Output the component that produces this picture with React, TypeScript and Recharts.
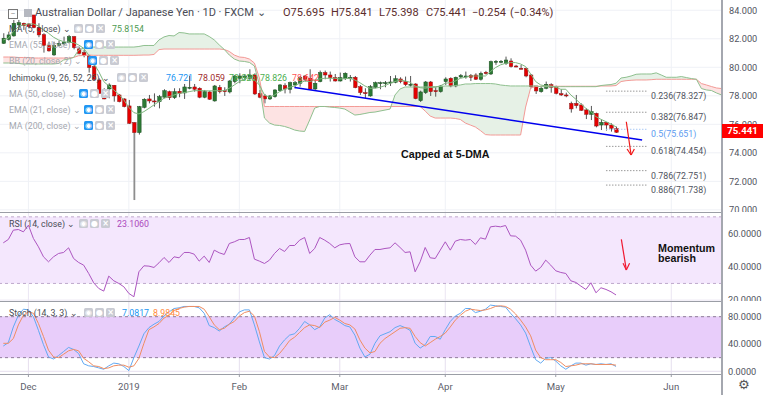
import React from "react";
import { ComposedChart, Area, Line, Bar, XAxis, YAxis, CartesianGrid, ReferenceLine, ReferenceArea } from "recharts";

const opens = [
81.68,81.96,82.20,82.97,83.09,83.04,83.67,82.81,82.29,81.52,
80.87,81.54,81.64,81.73,82.15,81.29,81.03,80.80,80.05,79.11,
78.29,78.48,78.74,78.06,77.78,77.29,76.12,75.42,77.19,77.78,
77.64,77.59,77.90,78.29,77.87,78.32,78.20,78.53,78.62,78.53,
77.90,78.27,77.64,78.60,78.36,78.27,79.00,79.23,79.27,79.23,
79.46,78.17,77.99,77.78,77.94,78.36,78.71,78.46,78.76,78.88,
79.39,79.23,78.48,79.00,79.63,79.46,79.27,79.04,79.23,79.25,
79.30,78.64,78.22,77.99,78.60,78.88,78.88,78.92,78.95,79.18,
79.00,78.76,78.83,77.66,78.22,78.97,78.36,78.29,79.00,79.23,
78.69,79.32,79.35,79.44,79.46,79.16,79.65,79.53,80.37,80.37,
80.28,80.44,80.09,79.93,79.93,79.46,78.69,78.29,78.53,78.78,
78.64,78.15,78.06,77.47,77.47,77.36,77.01,76.70,76.77,75.95,
76.14,75.95,75.695];
const highs = [
82.39,82.50,83.32,83.32,83.13,83.09,83.67,83.09,82.39,81.80,
81.80,81.87,82.15,82.27,82.20,81.45,81.22,80.87,80.17,79.23,
78.53,78.88,78.76,78.13,77.83,77.71,76.16,77.29,77.83,78.06,
78.17,78.06,78.46,78.36,78.53,78.53,78.83,79.39,78.83,78.60,
78.41,78.36,78.76,78.76,78.60,79.11,79.46,79.58,79.53,79.86,
79.58,78.41,78.13,78.06,78.46,78.83,78.88,79.00,79.04,79.39,
79.46,79.86,79.11,79.77,79.77,79.70,79.53,79.63,79.65,79.46,
79.39,78.76,78.53,78.76,79.00,79.00,79.04,79.39,79.44,79.30,
79.35,79.39,78.88,78.36,79.04,79.04,78.60,78.76,79.30,79.30,
79.35,79.53,79.70,79.53,79.58,79.70,79.75,80.47,80.51,80.51,
80.75,80.63,80.17,80.17,79.98,79.53,78.69,78.69,79.00,78.88,
78.71,78.46,78.22,77.59,78.06,77.47,77.12,77.29,76.82,76.35,
76.14,76.07,75.841];
const lows = [
81.64,81.87,82.15,82.62,82.62,82.74,82.74,82.11,81.03,81.10,
80.80,81.45,81.57,81.68,81.26,80.91,80.70,79.63,79.11,78.17,
77.76,77.83,77.59,77.54,77.19,76.02,70.69,75.28,77.12,77.47,
77.24,77.12,77.83,77.71,77.78,77.90,77.78,78.46,78.29,77.83,
77.83,77.71,77.59,78.17,77.99,78.17,78.88,78.88,79.11,79.11,
78.06,77.83,77.47,77.71,77.87,78.29,78.17,78.17,78.53,78.64,
79.00,78.41,78.41,78.95,79.16,79.00,79.00,79.00,79.11,79.00,
78.53,78.06,77.83,77.94,78.53,78.46,78.60,78.69,78.88,78.88,
78.69,78.64,77.76,77.57,78.13,77.99,77.94,78.22,78.76,78.60,
78.60,79.23,79.20,79.04,79.11,79.07,79.49,79.46,80.17,80.28,
80.17,79.98,80.00,79.86,79.30,78.53,78.13,78.22,78.46,78.22,
78.10,77.99,77.90,76.82,77.12,76.94,76.37,76.30,75.79,75.60,
75.56,75.49,75.398];
const closes = [
82.04,82.27,83.09,83.13,82.92,82.85,82.78,82.27,81.54,81.15,
81.52,81.68,81.75,82.15,81.38,80.98,80.82,79.98,79.16,78.17,
77.78,78.76,77.99,77.59,77.24,76.07,75.42,77.24,77.76,77.64,
77.59,77.94,78.36,77.87,78.29,78.17,78.62,78.60,78.46,77.90,
78.29,77.76,78.69,78.29,78.29,79.04,79.39,79.39,79.39,79.46,
78.13,77.90,77.78,77.99,78.41,78.76,78.48,78.92,78.92,79.30,
79.16,78.46,78.88,79.63,79.46,79.27,79.04,79.27,79.58,79.30,
78.57,78.22,78.20,78.64,78.92,78.92,78.92,78.97,79.20,79.00,
78.78,78.81,77.80,78.27,78.97,78.29,78.32,78.69,79.18,78.69,
79.30,79.42,79.39,79.30,79.16,79.58,79.56,80.40,80.42,80.42,
80.51,80.05,80.05,79.88,79.39,78.64,78.34,78.53,78.81,78.60,
78.17,78.06,77.99,77.08,77.31,76.98,76.70,76.89,75.88,76.14,
75.95,75.72,75.441];
const ma5 = [
81.92,82.04,82.50,82.85,82.97,83.04,83.04,82.90,82.62,82.39,
82.11,81.92,81.80,81.75,81.73,81.57,81.33,80.87,80.28,79.70,
79.00,78.69,78.41,78.10,77.71,77.19,76.82,76.73,76.89,77.12,
77.36,77.59,77.83,77.94,78.06,78.17,78.22,78.29,78.36,78.36,
78.36,78.34,78.36,78.36,78.36,78.53,78.76,79.00,79.16,79.30,
79.11,78.76,78.06,77.90,78.06,78.29,78.46,78.60,78.69,78.88,
79.04,79.00,79.11,79.18,79.23,79.23,79.23,79.18,79.20,79.23,
79.11,78.92,78.69,78.53,78.53,78.60,78.71,78.88,79.00,79.11,
79.04,78.95,78.69,78.57,78.53,78.60,78.60,78.69,78.88,78.92,
79.04,79.23,79.30,79.39,79.39,79.39,79.39,79.70,79.98,80.17,
80.28,80.33,80.33,80.23,80.05,79.53,79.00,78.76,78.69,78.69,
78.60,78.46,78.46,78.06,77.76,77.43,77.12,76.89,76.54,76.35,
76.19,76.02,75.82];
const spanA = [
80.30,80.30,80.30,80.27,80.23,80.23,80.23,80.23,80.23,80.23,
80.23,80.27,80.51,80.58,80.69,81.21,81.35,81.39,81.42,81.42,
81.42,81.42,81.42,81.42,81.42,81.42,81.42,81.46,81.53,81.53,
81.53,81.92,82.13,82.23,82.20,82.44,82.41,82.34,82.34,82.34,
82.34,82.16,81.92,81.57,81.25,80.86,80.58,80.44,80.41,80.34,
80.09,78.76,76.44,76.09,75.95,75.92,75.85,75.74,75.60,75.53,
75.50,76.30,77.14,77.25,77.25,77.21,77.18,77.14,77.07,76.86,
76.65,76.69,76.76,76.83,76.86,76.93,77.00,77.07,78.06,78.48,
78.62,78.62,78.62,78.62,78.62,78.62,78.65,78.65,78.69,78.69,
78.72,78.76,78.83,78.83,78.86,78.86,78.86,78.86,78.83,78.76,
78.72,78.69,78.69,78.69,78.69,78.69,78.69,78.64,78.64,78.64,
78.64,78.64,78.64,78.64,78.64,78.64,78.64,78.64,78.64,78.72,
78.76,78.79,78.88,79.25,79.30,79.39,79.51,79.53,79.53,79.53,
79.61,79.46,79.30,79.30,79.30,79.35,79.28,79.21,79.16,78.51,
78.41,78.37,78.20,78.06];
const spanB = [
80.72,80.72,80.72,80.69,80.69,80.69,80.65,80.65,80.65,80.65,
80.65,80.65,80.65,80.65,80.69,80.81,80.83,80.86,80.84,80.84,
80.84,80.84,80.84,80.84,80.84,80.84,80.84,80.85,80.86,80.86,
80.90,81.24,81.28,81.28,81.28,81.28,81.28,81.28,81.28,81.28,
81.28,81.28,81.28,81.28,81.25,81.11,80.86,80.72,80.69,80.58,
80.30,79.25,77.25,77.25,77.25,77.25,77.25,77.25,77.25,77.25,
77.25,77.25,77.25,77.25,77.25,77.25,77.25,77.25,77.25,77.25,
77.25,77.25,77.25,77.25,77.25,77.25,77.25,77.25,77.25,77.25,
77.25,77.25,77.25,77.25,76.93,76.58,76.44,76.44,76.44,76.44,
76.41,76.34,76.09,75.95,75.81,75.56,75.28,75.25,75.25,75.25,
75.25,75.25,75.25,75.25,77.21,78.55,78.65,78.67,78.67,78.67,
78.67,78.67,78.67,78.67,78.67,78.67,78.67,78.67,78.67,78.69,
78.69,78.69,78.72,79.00,79.06,79.09,79.11,79.11,79.11,79.13,
79.16,79.16,79.16,79.16,79.16,79.16,79.16,79.16,79.16,78.86,
78.76,78.65,78.55,78.51];
const rsi = [
54.4,56.4,62,62.4,61,65,57,52,46,43,
46,48,48.6,51.4,45,42.6,41,36,30.4,27,
25.4,34.4,31.6,30,28,24,22,37,40.6,40.4,
39.6,42.4,45.6,42.6,46,45.4,48.6,48.6,47.6,43.4,
46.4,42.6,50,48.4,47.4,54,55,56.4,56.4,57.6,
44.6,43.4,42,44,48,51,49.2,52.8,52.8,56,
57.6,48,51,57.6,56,54,51.4,53.2,53.8,54,
46,43,43,47,50.4,50.4,
51,51.4,54.4,51.6,48.6,49,37,43,51.6,45.4,
45,50,55,50,55.4,56.4,56,56.4,53.4,57.4,
56.6,64,64.4,64,64.8,58.6,58.4,56,50,41,
37.4,39.6,44,41,37.6,36.6,36,31.6,30.6,28.4,
26.4,30.4,24.4,27.4,26.4,25,23.1];
const stochK = [
37,42,65,82,91,90,80,60,39,21,
18,23,29,35,32,26,11,8,7,5,
3,8,12,11,7,1,20,37,55,64,
69,73,81,87,92,93,95,95,95,93,
85,67,64,59,65,69,78,87,90,90,
68,43,20,18,23,37,46,53,55,63,
73,68,61,65,78,83,76,72,67,65,
53,34,21,25,41,52,
55,58,64,67,64,60,41,34,39,51,
51,47,61,73,81,85,92,92,86,88,
91,97,96,95,94,85,77,68,56,36,
17,12,19,20,15,8,3,8,12,12,
9,11,10,11,10,11,7.08];
const stochD = [
41,41,48,68,82,87,85,70,51,31,
21,20,25,30,32,30,19,14,8,7,
4,5,8,9,9,6,8,19,41,61,
65,70,78,82,89,92,94,95,95,95,
91,80,68,61,63,69,73,81,86,88,
81,58,29,21,20,26,35,45,50,57,
64,68,67,64,72,75,79,75,70,68,
62,46,34,27,29,41,
48,53,58,63,64,63,51,42,37,42,
47,51,56,65,75,82,88,91,90,89,
90,92,95,96,95,91,84,75,65,52,
31,20,17,17,17,13,7,8,9,11,
11,11,10,10,10,10,8.98];

const monthTicks = [5, 25, 47, 67, 88, 110, 133];
const monthLabels = ["Dec", "2019", "Feb", "Mar", "Apr", "May", "Jun"];
const priceTicks = [70, 72, 74, 76, 78, 80, 82, 84];
const rsiTicks = [20, 40, 60];
const stochTicks = [0, 40, 80];
const fibLevels = [78.327, 76.847, 75.651, 74.454, 72.751, 71.738];
const fibNames = ["0.236(78.327)", "0.382(76.847)", "0.5(75.651)", "0.618(74.454)", "0.786(72.751)", "0.886(71.738)"];
const fibStart = 120;
const fibEnd = 128.2;
const trend = [{ x: 58, y: 78.58 }, { x: 127.2, y: 74.9 }];
const arrowMain = [{ x: 124.05, y: 76.18 }, { x: 125, y: 73.85 }];
const arrowMainL = [{ x: 124.2, y: 74.27 }, { x: 125, y: 73.85 }];
const arrowMainR = [{ x: 125.65, y: 74.27 }, { x: 125, y: 73.85 }];
const arrowRsi = [{ x: 123.06, y: 56.5 }, { x: 124.05, y: 38.1 }];
const arrowRsiL = [{ x: 123.4, y: 42.1 }, { x: 124.05, y: 38.1 }];
const arrowRsiR = [{ x: 124.7, y: 42.1 }, { x: 124.05, y: 38.1 }];

const row = (i: number) => {
  const a = spanA[i], b = spanB[i];
  const m = (a + b) / 2;
  const up = (j: number) => j >= 0 && j < spanA.length && spanA[j] >= spanB[j];
  const dn = (j: number) => j >= 0 && j < spanA.length && spanA[j] < spanB[j];
  return {
    i,
    a, b,
    green: up(i) ? [b, a] : up(i - 1) || up(i + 1) ? [m, m] : null,
    red: dn(i) ? [a, b] : dn(i - 1) || dn(i + 1) ? [m, m] : null,
    range: i < opens.length ? [lows[i], highs[i]] : null,
    o: opens[i], h: highs[i], l: lows[i], c: closes[i],
    ma: i < ma5.length ? ma5[i] : null,
  };
};
const priceData = spanA.map((_, i) => row(i));
const rsiData = rsi.map((v, i) => ({ i, v }));
const stochData = stochK.map((k, i) => ({ i, k, d: stochD[i] }));

const W = 768;
const xDomain: [number, number] = [-0.656, 143.1];
const FONT = "Roboto,'Open Sans',sans-serif";
const tickStyle = { fontSize: 9.2, fill: "#50535e", fontFamily: FONT };

const Candle = (p: any) => {
  const { x, y, width, height, payload } = p;
  if (!payload || !payload.range) return null;
  const { o, h, l, c } = payload;
  const k = height / (h - l);
  const top = y + (h - Math.max(o, c)) * k;
  const bh = Math.max(1, Math.abs(o - c) * k);
  const cx = x + width / 2;
  const upBar = c >= o;
  const long = l < 72;
  return (
    <g>
      <rect x={cx - (long ? 0.9 : 0.5)} y={y} width={long ? 1.8 : 1} height={height} fill={long ? "#8e8e8e" : "#555"} />
      <rect x={cx - 1.75} y={top} width={3.5} height={bh} fill={upBar ? "#2c7a34" : "#e60000"} stroke={upBar ? "#1d4f22" : "#8a1a1a"} strokeWidth={0.5} />
    </g>
  );
};

const Abs = ({ x, y, color, size = 8.8, weight, children, family, lh = 12 }: any) => (
  <div style={{ position: "absolute", left: x, top: y, color, fontSize: size, fontWeight: weight, fontFamily: family || FONT, lineHeight: `${lh}px`, whiteSpace: "pre", height: lh }}>{children}</div>
);
const Box = ({ x, y, bg = "#c9cbd3", children }: any) => (
  <div style={{ position: "absolute", left: x, top: y, width: 9, height: 9, background: bg, borderRadius: 1.5, color: "#fff", fontSize: 8, lineHeight: "9px", textAlign: "center", fontFamily: "'DejaVu Sans',sans-serif", fontWeight: 700 }}>{children}</div>
);
const Icons = ({ x, y, eye }: any) => (
  <>
    <Box x={x} y={y} bg={eye ? "#2196f3" : "#c9cbd3"}>◉</Box>
    <Box x={x + 11} y={y}>●</Box>
    <Box x={x + 22} y={y}>×</Box>
  </>
);
const seg = (s: any[], color: string, w = 1.2, dash?: string) => (
  <ReferenceLine segment={s} stroke={color} strokeWidth={w} strokeDasharray={dash} ifOverflow="visible" />
);

const gridStroke = "#eff1f6";
const BOLD = "'Liberation Sans',Arial,sans-serif";

export default function App() {
  return (
    <div style={{ position: "absolute", left: 0, top: 0, width: W, height: 395, background: "#fff", overflow: "hidden" }}>
      <div style={{ position: "absolute", left: 0, top: 0 }}>
        <ComposedChart width={W} height={212} data={priceData} margin={{ top: 0, right: 0, bottom: 0, left: 0 }}>
          <CartesianGrid stroke={gridStroke} verticalValues={monthTicks} horizontalValues={priceTicks} />
          <XAxis dataKey="i" type="number" domain={xDomain} ticks={monthTicks} hide allowDataOverflow />
          <YAxis orientation="right" width={46} domain={[69.85, 84.72]} ticks={priceTicks} interval={0} allowDataOverflow tickFormatter={(v: number) => v.toFixed(3)} tick={tickStyle} tickLine={false} axisLine={false} tickMargin={1} />
          <Area dataKey="green" stroke="none" fill="#e6f1e6" fillOpacity={1} isAnimationActive={false} dot={false} activeDot={false} />
          <Area dataKey="red" stroke="none" fill="#fde3e3" fillOpacity={1} isAnimationActive={false} dot={false} activeDot={false} />
          <Line dataKey="b" stroke="#f39a96" strokeWidth={1} dot={false} activeDot={false} isAnimationActive={false} />
          <Line dataKey="a" stroke="#8fc08f" strokeWidth={1} dot={false} activeDot={false} isAnimationActive={false} />
          <Line dataKey="ma" stroke="#7fb77f" strokeWidth={1} dot={false} activeDot={false} isAnimationActive={false} />
          <Bar dataKey="range" barSize={4} shape={<Candle />} isAnimationActive={false} />
          {seg(trend, "#0000ee", 1.6)}
          {fibLevels.map((v, j) => (
            <ReferenceLine key={j} segment={[{ x: fibStart, y: v }, { x: fibEnd, y: v }]} stroke={j === 2 ? "#a9c8f5" : "#9a9a9a"} strokeWidth={1} strokeDasharray="1.5 1.5" />
          ))}
          {seg(arrowMain, "#f01818", 1.2)}
          {seg(arrowMainL, "#f01818", 1.2)}
          {seg(arrowMainR, "#f01818", 1.2)}
        </ComposedChart>
      </div>

      <div style={{ position: "absolute", left: 0, top: 213 }}>
        <ComposedChart width={W} height={88} data={rsiData} margin={{ top: 0, right: 0, bottom: 0, left: 0 }}>
          <XAxis dataKey="i" type="number" domain={xDomain} ticks={monthTicks} hide allowDataOverflow />
          <YAxis orientation="right" width={46} domain={[19.46, 72.31]} ticks={rsiTicks} interval={0} allowDataOverflow tickFormatter={(v: number) => v.toFixed(4)} tick={tickStyle} tickLine={false} axisLine={false} tickMargin={0} />
          <ReferenceArea y1={30} y2={70} fill="#f4e7fd" fillOpacity={1} stroke="none" ifOverflow="hidden" />
          <CartesianGrid stroke="#ebe6f3" verticalValues={monthTicks} horizontalValues={rsiTicks} />
          <ReferenceLine y={70} stroke="#bfa9cc" strokeDasharray="3 3" />
          <ReferenceLine y={30} stroke="#bfa9cc" strokeDasharray="3 3" />
          <Line dataKey="v" stroke="#ac55c0" strokeWidth={1} dot={false} activeDot={false} isAnimationActive={false} />
          {seg(arrowRsi, "#f01830", 1.2)}
          {seg(arrowRsiL, "#f01830", 1.2)}
          {seg(arrowRsiR, "#f01830", 1.2)}
        </ComposedChart>
      </div>

      <div style={{ position: "absolute", left: 0, top: 302 }}>
        <ComposedChart width={W} height={93} data={stochData} margin={{ top: 0, right: 0, bottom: 0, left: 0 }}>
          <XAxis dataKey="i" type="number" domain={xDomain} ticks={monthTicks} height={21} allowDataOverflow interval={0}
            tickFormatter={(v: number) => monthLabels[monthTicks.indexOf(v)]} tick={{ fontSize: 9.6, fill: "#5d606b", fontFamily: FONT }} tickLine={{ stroke: "#9a9da6" }} tickSize={3} axisLine={false} tickMargin={6} />
          <YAxis orientation="right" width={46} domain={[-3.96, 101.54]} ticks={stochTicks} interval={0} allowDataOverflow tickFormatter={(v: number) => v.toFixed(4)} tick={tickStyle} tickLine={false} axisLine={false} tickMargin={0} />
          <ReferenceArea y1={20} y2={80} fill="#e8cdfa" fillOpacity={1} stroke="none" ifOverflow="hidden" />
          <CartesianGrid stroke="#e6dfee" verticalValues={monthTicks} horizontalValues={stochTicks} />
          <ReferenceLine y={80} stroke="#8f7c99" strokeDasharray="3 3" />
          <ReferenceLine y={20} stroke="#8f7c99" strokeDasharray="3 3" />
          <Line dataKey="k" stroke="#62a9f2" strokeWidth={1} dot={false} activeDot={false} isAnimationActive={false} />
          <Line dataKey="d" stroke="#ef8d62" strokeWidth={1} dot={false} activeDot={false} isAnimationActive={false} />
        </ComposedChart>
      </div>

      {[212, 301, 374].map((t) => (
        <div key={t} style={{ position: "absolute", left: 0, top: t, width: 722, height: 1, background: "#9b9ea6" }} />
      ))}
      <div style={{ position: "absolute", left: 721, top: 0, width: 1.5, height: 395, background: "#a4a7af" }} />

      <div style={{ position: "absolute", left: 8, top: 9, width: 8, height: 8, border: "1px solid #777", fontSize: 8, lineHeight: "7px", textAlign: "center", color: "#555" }}>−</div>
      <div style={{ position: "absolute", left: 24, top: 9, width: 8, height: 8, background: "#b5b8c0" }} />
      <Abs x={35} y={7} color="#4a4c55" size={11}>Australian Dollar / Japanese Yen · 1D · FXCM ⌄</Abs>
      <Abs x={283} y={7} color="#5b2b2b" size={11}>O75.695</Abs>
      <Abs x={331} y={7} color="#5b2b2b" size={11}>H75.841</Abs>
      <Abs x={379} y={7} color="#5b2b2b" size={11}>L75.398</Abs>
      <Abs x={426} y={7} color="#5b2b2b" size={11}>C75.441</Abs>
      <Abs x={472} y={7} color="#5b2b2b" size={11}>−0.254</Abs>
      <Abs x={510} y={7} color="#5b2b2b" size={11}>(−0.34%)</Abs>

      <Abs x={9} y={23} color="#4a4c55">MA (5, close) ⌄</Abs>
      <Icons x={74} y={24} />
      <Abs x={112} y={23} color="#4d9a50">75.8154</Abs>
      <Abs x={9} y={39} color="#a5a8b0">EMA (55, close) ⌄</Abs>
      <Icons x={84} y={40} eye />
      <Abs x={9} y={55} color="#a5a8b0">BB (20, close, 2) ⌄</Abs>
      <Icons x={88} y={56} eye />
      <Abs x={9} y={72} color="#4a4c55">Ichimoku (9, 26, 52, 26) ⌄</Abs>
      <Icons x={117} y={73} />
      <Abs x={166} y={72} color="#2196f3">76.721</Abs>
      <Abs x={198} y={72} color="#a02c2c">78.059</Abs>
      <Abs x={229} y={72} color="#4caf50">78.826</Abs>
      <Abs x={260} y={72} color="#4caf50">78.826</Abs>
      <Abs x={292} y={72} color="#f55">78.642</Abs>
      <Abs x={9} y={88} color="#a5a8b0">MA (50, close) ⌄</Abs>
      <Icons x={79} y={89} eye />
      <Abs x={9} y={104} color="#a5a8b0">EMA (21, close) ⌄</Abs>
      <Icons x={84} y={105} eye />
      <Abs x={9} y={120} color="#a5a8b0">MA (200, close) ⌄</Abs>
      <Icons x={84} y={121} eye />

      <Abs x={9} y={218} color="#4a4c55">RSI (14, close) ⌄</Abs>
      <Icons x={79} y={219} />
      <Abs x={117} y={218} color="#ab47bc">23.1060</Abs>
      <Abs x={9} y={307} color="#4a4c55">Stoch (14, 3, 3) ⌄</Abs>
      <Icons x={84} y={308} />
      <Abs x={122} y={307} color="#2196f3">7.0817</Abs>
      <Abs x={153} y={307} color="#ff8a3c">8.9845</Abs>

      {fibNames.map((t, j) => (
        <Abs key={t} x={651} y={[90, 111, 128, 145, 170, 184][j]} color={j === 2 ? "#5b9bf0" : "#50535e"}>{t}</Abs>
      ))}
      <Abs x={401} y={148} color="#111" size={10.7} weight={700} family={BOLD}>Capped at 5-DMA</Abs>
      <Abs x={658} y={243} color="#111" size={10.7} weight={700} family={BOLD} lh={10}>Momentum</Abs>
      <Abs x={658} y={253} color="#111" size={10.7} weight={700} family={BOLD} lh={10}>bearish</Abs>

      <div style={{ position: "absolute", left: 722, top: 124, width: 41, height: 14, background: "#ff0000", color: "#fff", fontSize: 9.6, fontWeight: 700, lineHeight: "14px", textAlign: "center", fontFamily: FONT }}>75.441</div>
      <Abs x={738} y={379} color="#555" size={13} family="'DejaVu Sans',sans-serif">⚙</Abs>
    </div>
  );
}
